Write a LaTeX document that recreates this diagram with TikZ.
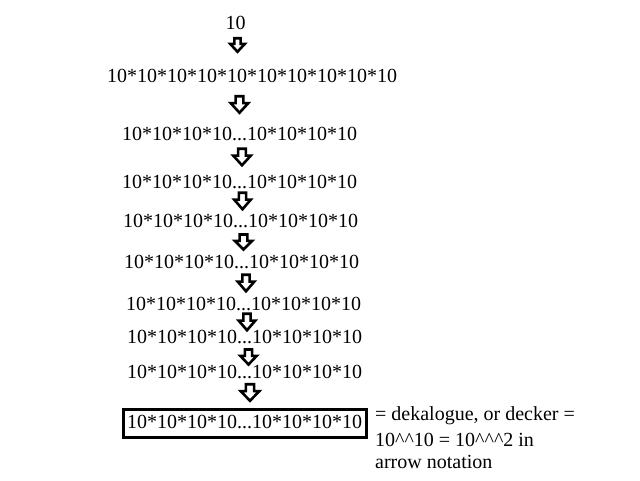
\documentclass[tikz,border=0pt]{standalone}
\usepackage{fontspec}
\setmainfont{Liberation Serif}
\tikzset{
  line/.style={font=\fontsize{20}{24}\selectfont, inner sep=0pt, anchor=base},
  finalbox/.style={line, draw, line width=3pt, inner xsep=4pt, inner ysep=5.5pt, text height=13.5pt, text depth=4pt},
  note/.style={font=\fontsize{20}{24}\selectfont, inner sep=0pt, anchor=base west, align=left},
  dnarrow/.pic={
    \draw[line width=2.6pt, line join=miter]
      (-0.22,-0.5) -- (0.22,-0.5) -- (0.22,-0.08) -- (0.5,-0.08) -- (0,0.5)
      -- (-0.5,-0.08) -- (-0.22,-0.08) -- cycle;
  }
}
\begin{document}
\begin{tikzpicture}[x=1pt,y=-1pt]
\useasboundingbox[fill=white] (0,0) rectangle (640,480);
\node[line] (t0) at (235.5,29) {10};
\node[line] (t1) at (252,82) {10*10*10*10*10*10*10*10*10*10};
\node[line] (t2) at (239.5,140) {10*10*10*10...10*10*10*10};
\node[line] (t3) at (239.5,188) {10*10*10*10...10*10*10*10};
\node[line] (t4) at (240.5,227) {10*10*10*10...10*10*10*10};
\node[line] (t5) at (241.5,268) {10*10*10*10...10*10*10*10};
\node[line] (t6) at (243.5,310) {10*10*10*10...10*10*10*10};
\node[line] (t7) at (244.5,343) {10*10*10*10...10*10*10*10};
\node[line] (t8) at (244.5,378) {10*10*10*10...10*10*10*10};
\node[finalbox] (t9) at (244.5,428) {10*10*10*10...10*10*10*10};
\node[note] (nt) at (375,468) {= dekalogue, or decker =\\[2pt]10\^{}\^{}10 = 10\^{}\^{}\^{}2 in\\[-2.5pt]arrow notation};
\pic (a1) [xscale=14.5, yscale=13.5] at (237.5,45) {dnarrow};
\pic (a2) [xscale=17.5, yscale=16.5] at (239.5,104.5) {dnarrow};
\pic (a3) [xscale=17.5, yscale=16.5] at (242,157) {dnarrow};
\pic (a4) [xscale=16.5, yscale=16.5] at (242.5,201) {dnarrow};
\pic (a5) [xscale=17.5, yscale=15] at (243.5,242) {dnarrow};
\pic (a6) [xscale=16.5, yscale=16.5] at (246,283) {dnarrow};
\pic (a7) [xscale=16.5, yscale=16.5] at (247,322) {dnarrow};
\pic (a8) [xscale=16.5, yscale=15] at (248.5,357) {dnarrow};
\pic (a9) [xscale=18.5, yscale=16.5] at (250,392.5) {dnarrow};
\end{tikzpicture}
\end{document}
